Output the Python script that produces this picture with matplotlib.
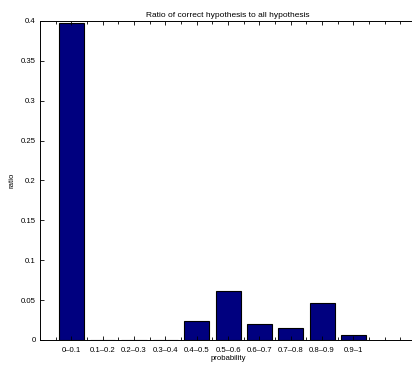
import matplotlib
matplotlib.use("Agg")
import matplotlib.pyplot as plt
import numpy as np
from matplotlib.ticker import MultipleLocator

plt.rcParams['font.family'] = ['Liberation Sans', 'DejaVu Sans']

categories = ["0–0.1", "0.1–0.2", "0.2–0.3", "0.3–0.4", "0.4–0.5",
              "0.5–0.6", "0.6–0.7", "0.7–0.8", "0.8–0.9", "0.9–1"]
ratios = [0.398, 0.0, 0.0, 0.0, 0.0234, 0.061, 0.0196, 0.0154, 0.046, 0.006]
y_ticks = [0, 0.05, 0.1, 0.15, 0.2, 0.25, 0.3, 0.35, 0.4]
y_tick_labels = ["0", "0.05", "0.1", "0.15", "0.2", "0.25", "0.3", "0.35", "0.4"]

fig = plt.figure(figsize=(4.12, 3.65), dpi=100)
ax = fig.add_axes([0.097, 0.0685, 0.913, 0.874])

pos = np.arange(1, len(categories) + 1)
ax.bar(pos, ratios, width=0.8, color="#00007f", edgecolor="black", linewidth=0.8)

ax.set_xlim(0, 12)
ax.set_ylim(0, 0.4)
ax.set_xticks(pos)
ax.set_xticklabels(categories, fontsize=5.6)
ax.xaxis.set_minor_locator(MultipleLocator(0.5))
ax.set_yticks(y_ticks)
ax.set_yticklabels(y_tick_labels, fontsize=5.6)

ax.tick_params(which="both", direction="in", top=True, right=True, width=0.6)
ax.tick_params(which="major", length=3)
ax.tick_params(which="major", axis="x", pad=5)
ax.tick_params(which="major", axis="y", pad=3)
ax.tick_params(which="minor", length=2)
for s in ax.spines.values():
    s.set_linewidth(0.7)

ax.set_title("Ratio of correct hypothesis to all hypothesis", fontsize=6, pad=3)
ax.set_xlabel("probability", fontsize=5.6, labelpad=1)
ax.set_ylabel("ratio", fontsize=5.6, labelpad=4)

fig.savefig("out.png", dpi=100)
